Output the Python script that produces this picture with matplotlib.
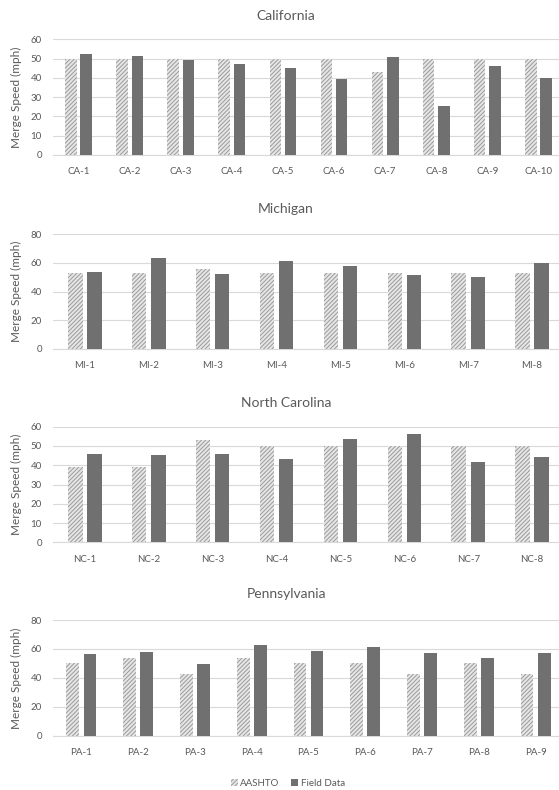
import matplotlib.pyplot as plt
import numpy as np

plt.rcParams['font.family'] = ['Lato', 'DejaVu Sans']
plt.rcParams['hatch.linewidth'] = 0.7

ca_sites = ['CA-1', 'CA-2', 'CA-3', 'CA-4', 'CA-5', 'CA-6', 'CA-7', 'CA-8', 'CA-9', 'CA-10']
ca_aashto = [50, 50, 50, 50, 50, 50, 43, 50, 50, 50]
ca_field = [52.2, 51.2, 49.3, 47.0, 45.0, 39.2, 51.0, 25.5, 46.4, 39.7]

mi_sites = ['MI-1', 'MI-2', 'MI-3', 'MI-4', 'MI-5', 'MI-6', 'MI-7', 'MI-8']
mi_aashto = [53, 53, 55.5, 53, 53, 53, 53, 53]
mi_field = [54, 63.5, 52.5, 61.5, 58, 51.5, 50, 60]

nc_sites = ['NC-1', 'NC-2', 'NC-3', 'NC-4', 'NC-5', 'NC-6', 'NC-7', 'NC-8']
nc_aashto = [39, 39, 53, 50, 50, 50, 50, 50]
nc_field = [46, 45.5, 46, 43, 53.5, 56, 41.5, 44.5]

pa_sites = ['PA-1', 'PA-2', 'PA-3', 'PA-4', 'PA-5', 'PA-6', 'PA-7', 'PA-8', 'PA-9']
pa_aashto = [50, 53.5, 43, 53.5, 50, 50, 43, 50, 43]
pa_field = [56.5, 58, 49.5, 63, 58.5, 61.5, 57, 53.5, 57]

W, H = 559, 790
txt = '#595959'
grid = '#d9d9d9'
dark = '#707070'

fig = plt.figure(figsize=(W / 100, H / 100), dpi=100)

# (title, sites, aashto, field, ymax, ystep, axes top px, axes bottom px, title y px)
panels = [
    ('California', ca_sites, ca_aashto, ca_field, 60, 10, 39.3, 155.0, 15.5),
    ('Michigan', mi_sites, mi_aashto, mi_field, 80, 20, 234.3, 349.0, 208.5),
    ('North Carolina', nc_sites, nc_aashto, nc_field, 60, 10, 426.7, 542.3, 402.7),
    ('Pennsylvania', pa_sites, pa_aashto, pa_field, 80, 20, 620.0, 735.7, 594.0),
]

left_px, right_px = 53, 564
for title, sites, aashto, field, ymax, ystep, top, bot, ty in panels:
    ax = fig.add_axes([left_px / W, 1 - bot / H, (right_px - left_px) / W, (bot - top) / H])
    x = np.arange(len(sites))
    b1 = ax.bar(x - 0.15, aashto, width=0.225, color='#e6e6e6', edgecolor='#9a9a9a',
                hatch='////////', linewidth=0, label='AASHTO', zorder=2)
    b2 = ax.bar(x + 0.15, field, width=0.225, color=dark, linewidth=0,
                label='Field Data', zorder=2)
    ax.set_xlim(-0.5, len(sites) - 0.5)
    ax.set_ylim(0, ymax)
    ax.set_yticks(np.arange(0, ymax + 1, ystep))
    ax.set_xticks(x)
    ax.set_xticklabels(sites)
    ax.grid(axis='y', color=grid, linewidth=0.8, zorder=0)
    for s in ['top', 'right', 'left']:
        ax.spines[s].set_visible(False)
    ax.spines['bottom'].set_color(grid)
    ax.spines['bottom'].set_zorder(1)
    ax.tick_params(axis='both', length=0, labelcolor=txt, labelsize=7)
    ax.tick_params(axis='x', pad=9)
    ax.tick_params(axis='y', pad=8)
    ax.set_ylabel('Merge Speed (mph)', color=txt, fontsize=8.5)
    ax.yaxis.set_label_coords((22 - left_px) / (right_px - left_px), 0.5)
    fig.text(286 / W, 1 - ty / H, title, ha='center', va='center', color=txt, fontsize=10)

fig.legend(handles=[b1, b2], labels=['AASHTO', 'Field Data'], loc='center',
           bbox_to_anchor=(288 / W, 1 - 783 / H), ncol=2, frameon=False,
           fontsize=7, labelcolor=txt, handlelength=0.7, handleheight=0.7,
           handletextpad=0.3, columnspacing=1.2)

fig.savefig('out.png', dpi=100)
